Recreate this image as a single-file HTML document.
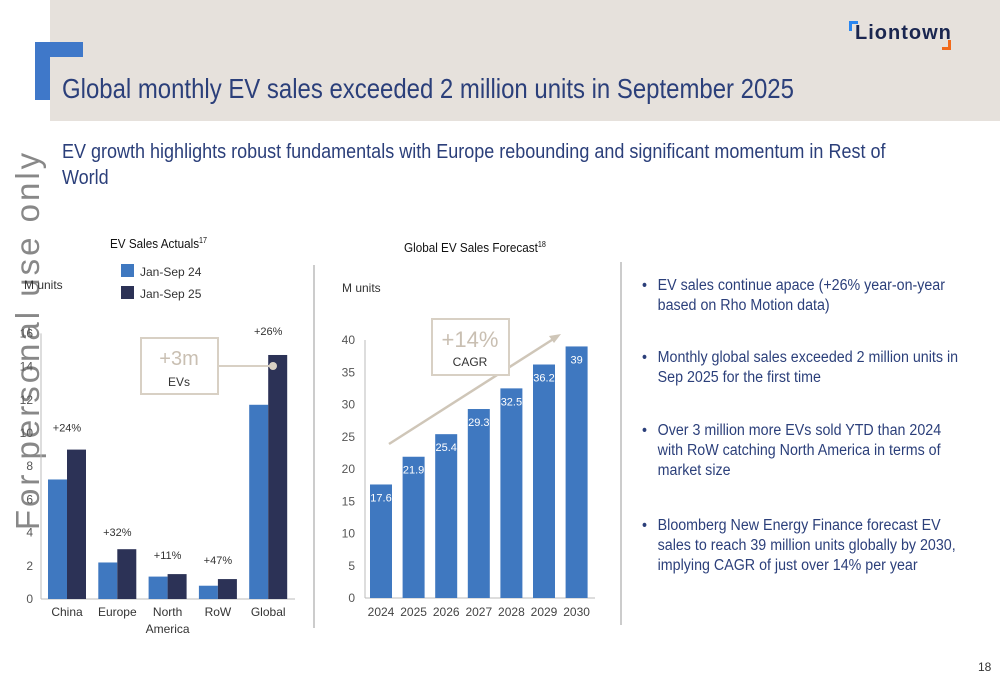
<!DOCTYPE html>
<html><head><meta charset="utf-8"><style>
body{margin:0;width:1000px;height:685px;background:#fff;font-family:"Liberation Sans",sans-serif;position:relative;overflow:hidden;color:#333}
.abs{position:absolute}
svg text{font-family:"Liberation Sans",sans-serif}
</style></head><body>
<div class="abs" style="left:50px;top:0;width:950px;height:121px;background:#e6e1dc"></div>
<div class="abs" style="left:35px;top:42px;width:15px;height:58px;background:#3f78c9"></div>
<div class="abs" style="left:35px;top:42px;width:48px;height:15px;background:#3f78c9"></div>
<div class="abs" style="left:855px;top:22px;font-size:20px;font-weight:bold;color:#1a2650;letter-spacing:1px">Liontown</div>
<div class="abs" style="left:849px;top:21px;width:6px;height:7px;border-left:3px solid #2a86f0;border-top:3px solid #2a86f0"></div>
<div class="abs" style="left:942px;top:40px;width:6px;height:7px;border-right:3px solid #f26a1b;border-bottom:3px solid #f26a1b"></div>
<div class="abs" style="left:62px;top:73px;font-size:28px;color:#2b3f7a;white-space:nowrap;transform:scaleX(0.855);transform-origin:left top">Global monthly EV sales exceeded 2 million units in September 2025</div>
<div class="abs" style="left:62px;top:139px;width:930px;font-size:20px;line-height:26px;color:#2b3f7a;transform:scaleX(0.9);transform-origin:left top">EV growth highlights robust fundamentals with Europe rebounding and significant momentum in Rest of World</div>
<div class="abs" style="left:28px;top:340px;transform:translate(-50%,-50%) rotate(-90deg);font-size:33px;color:#888;white-space:nowrap;letter-spacing:3px">For personal use only</div>
<div class="abs" style="left:313px;top:265px;width:2px;height:363px;background:#ccc"></div>
<div class="abs" style="left:620px;top:262px;width:2px;height:363px;background:#ccc"></div>

<svg class="abs" style="left:0;top:0" width="1000" height="685" id="svg"></svg>

<div class="abs" style="left:642px;top:276px;width:350px;font-size:15.5px;line-height:20px;color:#2b3f7a;transform:scaleX(0.92);transform-origin:left top">
<div style="position:absolute;top:0;left:0;padding-left:17px;width:320px"><span style="position:absolute;left:0">•</span>EV sales continue apace (+26% year-on-year based on Rho Motion data)</div>
<div style="position:absolute;top:72px;left:0;padding-left:17px;width:330px"><span style="position:absolute;left:0">•</span>Monthly global sales exceeded 2 million units in Sep 2025 for the first time</div>
<div style="position:absolute;top:145px;left:0;padding-left:17px;width:320px"><span style="position:absolute;left:0">•</span>Over 3 million more EVs sold YTD than 2024 with RoW catching North America in terms of market size</div>
<div style="position:absolute;top:240px;left:0;padding-left:17px;width:333px"><span style="position:absolute;left:0">•</span>Bloomberg New Energy Finance forecast EV sales to reach 39 million units globally by 2030, implying CAGR of just over 14% per year</div>
</div>
<div class="abs" style="left:978px;top:660px;font-size:12px;color:#333">18</div>

<script>
const regions=["China","Europe","North|America","RoW","Global"];
const sales24=[7.2,2.2,1.35,0.8,11.7];
const sales25=[9.0,3.0,1.5,1.2,14.7];
const growth=["+24%","+32%","+11%","+47%","+26%"];
const growthVal=[10.1,3.8,2.4,2.1,15.9];
const leftTicks=[0,2,4,6,8,10,12,14,16];
const years=["2024","2025","2026","2027","2028","2029","2030"];
const forecast=[17.6,21.9,25.4,29.3,32.5,36.2,39];
const rightTicks=[0,5,10,15,20,25,30,35,40];

const S=document.getElementById('svg');const NS="http://www.w3.org/2000/svg";
function mk(t,a,txt){const e=document.createElementNS(NS,t);for(const k in a)e.setAttribute(k,a[k]);if(txt!==undefined)e.textContent=txt;S.appendChild(e);return e;}
function titleSup(x,y,main,sup){const t=mk('text',{x:x,y:y,'font-size':13,fill:'#111'});t.textContent=main;const s=document.createElementNS(NS,'tspan');s.setAttribute('font-size','8');s.setAttribute('dy','-5');s.textContent=sup;t.appendChild(s);return t;}
// left chart
const ly=v=>599-v*16.6;const lx=i=>48+i*50.3;
titleSup(110,248,'EV Sales Actuals','17').setAttribute('transform','translate(110,0) scale(0.9,1) translate(-110,0)');
let e=mk('rect',{x:121,y:264,width:13,height:13,fill:'#3f78c0'});

mk('text',{x:140,y:276,'font-size':12,fill:'#333'},'Jan-Sep 24');
e=mk('rect',{x:121,y:286,width:13,height:13,fill:'#2c3256'});

mk('text',{x:140,y:298,'font-size':12,fill:'#333'},'Jan-Sep 25');
mk('text',{x:24,y:289,'font-size':12,fill:'#333'},'M units');
leftTicks.forEach(t=>{mk('text',{x:33,y:ly(t)+4,'font-size':12,fill:'#555','text-anchor':'end'},t);});
mk('line',{x1:41,y1:ly(16),x2:41,y2:ly(0),stroke:'#bbb'});
mk('line',{x1:41,y1:ly(0),x2:295,y2:ly(0),stroke:'#bbb'});
regions.forEach((r,i)=>{
 let b=mk('rect',{x:lx(i),y:ly(sales24[i]),width:19,height:sales24[i]*16.6,fill:'#3f78c0'});
 
 b=mk('rect',{x:lx(i)+19,y:ly(sales25[i]),width:19,height:sales25[i]*16.6,fill:'#2c3256'});
 
 const p=r.split('|');
 mk('text',{x:lx(i)+19,y:616,'font-size':12,fill:'#333','text-anchor':'middle'},p[0]);
 if(p[1])mk('text',{x:lx(i)+19,y:633,'font-size':12,fill:'#333','text-anchor':'middle'},p[1]);
 mk('text',{x:lx(i)+19,y:ly(growthVal[i]),'font-size':11,fill:'#333','text-anchor':'middle'},growth[i]);
});
mk('rect',{x:141,y:338,width:77,height:56,fill:'none',stroke:'#d8d0c4','stroke-width':2});
mk('text',{x:179,y:365,'font-size':20,fill:'#c9bfb2','text-anchor':'middle'},'+3m');
mk('text',{x:179,y:386,'font-size':12,fill:'#333','text-anchor':'middle'},'EVs');
mk('line',{x1:218,y1:366,x2:273,y2:366,stroke:'#d8d0c4','stroke-width':2});
mk('circle',{cx:273,cy:366,r:4,fill:'#d8d0c4'});
// right chart
const ry=v=>598-v*6.45;const rx=i=>370+i*32.6;
titleSup(404,252,'Global EV Sales Forecast','18').setAttribute('transform','translate(404,0) scale(0.9,1) translate(-404,0)');
mk('text',{x:342,y:292,'font-size':12,fill:'#333'},'M units');
rightTicks.forEach(t=>{mk('text',{x:355,y:ry(t)+4,'font-size':12,fill:'#555','text-anchor':'end'},t);});
mk('line',{x1:365,y1:ry(40),x2:365,y2:ry(0),stroke:'#bbb'});
mk('line',{x1:365,y1:ry(0),x2:595,y2:ry(0),stroke:'#bbb'});
years.forEach((y,i)=>{
 const b=mk('rect',{x:rx(i),y:ry(forecast[i]),width:22,height:forecast[i]*6.45,fill:'#3f78c0'});
 
 mk('text',{x:rx(i)+11,y:ry(forecast[i])+17,'font-size':11,fill:'#fff','text-anchor':'middle'},forecast[i]);
 mk('text',{x:rx(i)+11,y:616,'font-size':12,fill:'#444','text-anchor':'middle'},y);
});
mk('line',{x1:389,y1:444,x2:555,y2:338,stroke:'#cfc6b8','stroke-width':2.5});
mk('polygon',{points:'561,334 549,336 554,343',fill:'#cfc6b8'});
mk('rect',{x:432,y:319,width:77,height:56,fill:'#fff',stroke:'#d8d0c4','stroke-width':2});
mk('text',{x:470,y:347,'font-size':22,fill:'#c9bfb2','text-anchor':'middle'},'+14%');
mk('text',{x:470,y:366,'font-size':12,fill:'#333','text-anchor':'middle'},'CAGR');
</script>
</body></html>
